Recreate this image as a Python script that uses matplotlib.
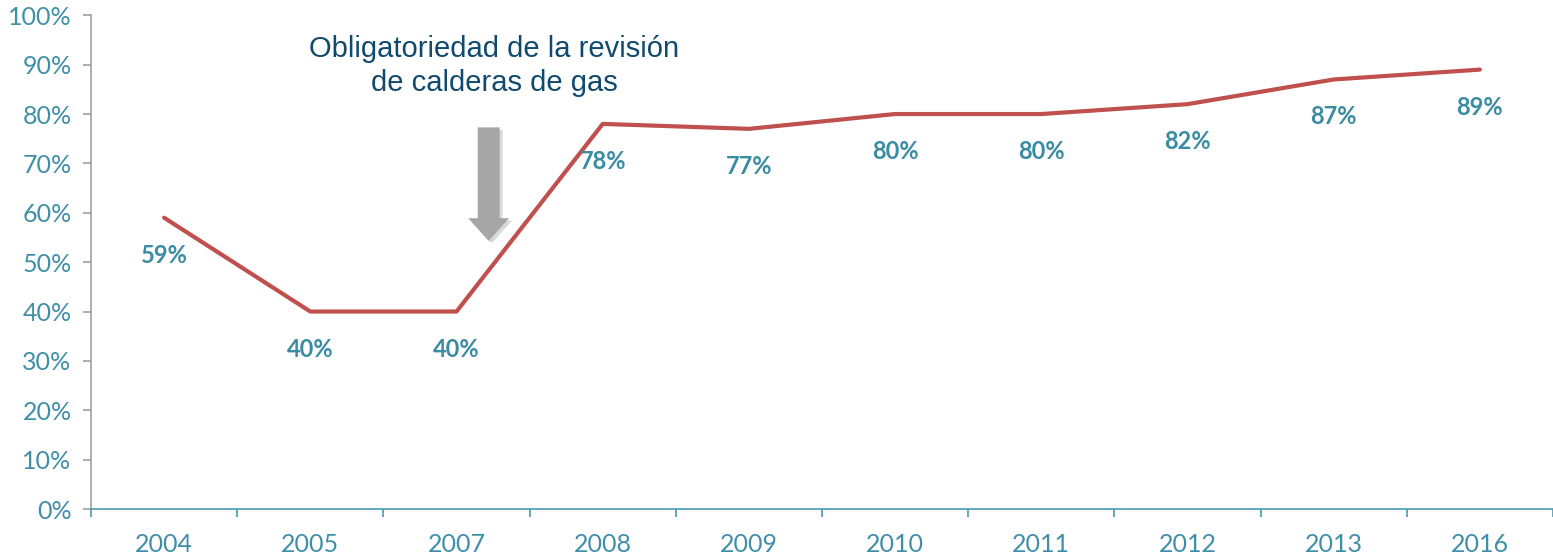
import matplotlib.pyplot as plt
from matplotlib.patches import FancyArrow
from matplotlib.ticker import FixedLocator

# Datos
anios = ['2004', '2005', '2007', '2008', '2009', '2010', '2011', '2012', '2013', '2016']
porcentaje = [59, 40, 40, 78, 77, 80, 80, 82, 87, 89]
y_ticks = list(range(0, 101, 10))
texto_nota = 'Obligatoriedad de la revisión\nde calderas de gas'

azul_tick = '#3f8fa8'
rojo = '#c0504d'

fig = plt.figure(figsize=(15.53, 5.56), dpi=100)
ax = fig.add_axes([0.0586, 0.0845, 0.9414, 0.888])

x = list(range(len(anios)))
ax.plot(x, porcentaje, color=rojo, linewidth=3, solid_capstyle='round', zorder=3)

# Etiquetas de datos debajo de cada punto
for xi, v in zip(x, porcentaje):
    ax.annotate(f'{v}%', (xi, v), xytext=(0, -27), textcoords='offset points',
                ha='center', va='center', fontsize=17, fontweight='bold',
                color='#3a8ca3', family='Lato')

# Flecha gris con sombra
ax.add_patch(FancyArrow(2.24, 76.8, 0, -23.0, width=0.15, head_width=0.28,
                        head_length=4.6, length_includes_head=True,
                        color='#d9d9d9', linewidth=0, zorder=1))
ax.add_patch(FancyArrow(2.22, 77.3, 0, -23.0, width=0.15, head_width=0.28,
                        head_length=4.6, length_includes_head=True,
                        color='#a6a6a6', linewidth=0, zorder=2))

ax.text(2.26, 89.7, texto_nota, ha='center', va='center', fontsize=21,
        color='#114a6e', family='Liberation Sans', linespacing=1.3)

ax.set_xlim(-0.5, len(anios) - 0.5)
ax.set_ylim(0, 100)
ax.set_xticks(x)
ax.set_xticklabels(anios)
ax.xaxis.set_minor_locator(FixedLocator([i - 0.5 for i in range(len(anios) + 1)]))
ax.set_yticks(y_ticks)
ax.set_yticklabels([f'{t}%' for t in y_ticks])

for lab in ax.get_xticklabels() + ax.get_yticklabels():
    lab.set_family('Lato')

ax.tick_params(axis='x', which='major', length=0, pad=17, labelsize=18, labelcolor=azul_tick)
ax.tick_params(axis='x', which='minor', length=6, width=1.2, color='#4a9bb0', direction='out')
ax.tick_params(axis='y', length=6, width=1.2, color='#a0a0a0', pad=8, labelsize=18,
               labelcolor=azul_tick)

ax.spines['top'].set_visible(False)
ax.spines['right'].set_visible(False)
ax.spines['left'].set_color('#a0a0a0')
ax.spines['left'].set_linewidth(1.2)
ax.spines['bottom'].set_color('#4a9bb0')
ax.spines['bottom'].set_linewidth(1.2)

plt.savefig('out.png', dpi=100)
